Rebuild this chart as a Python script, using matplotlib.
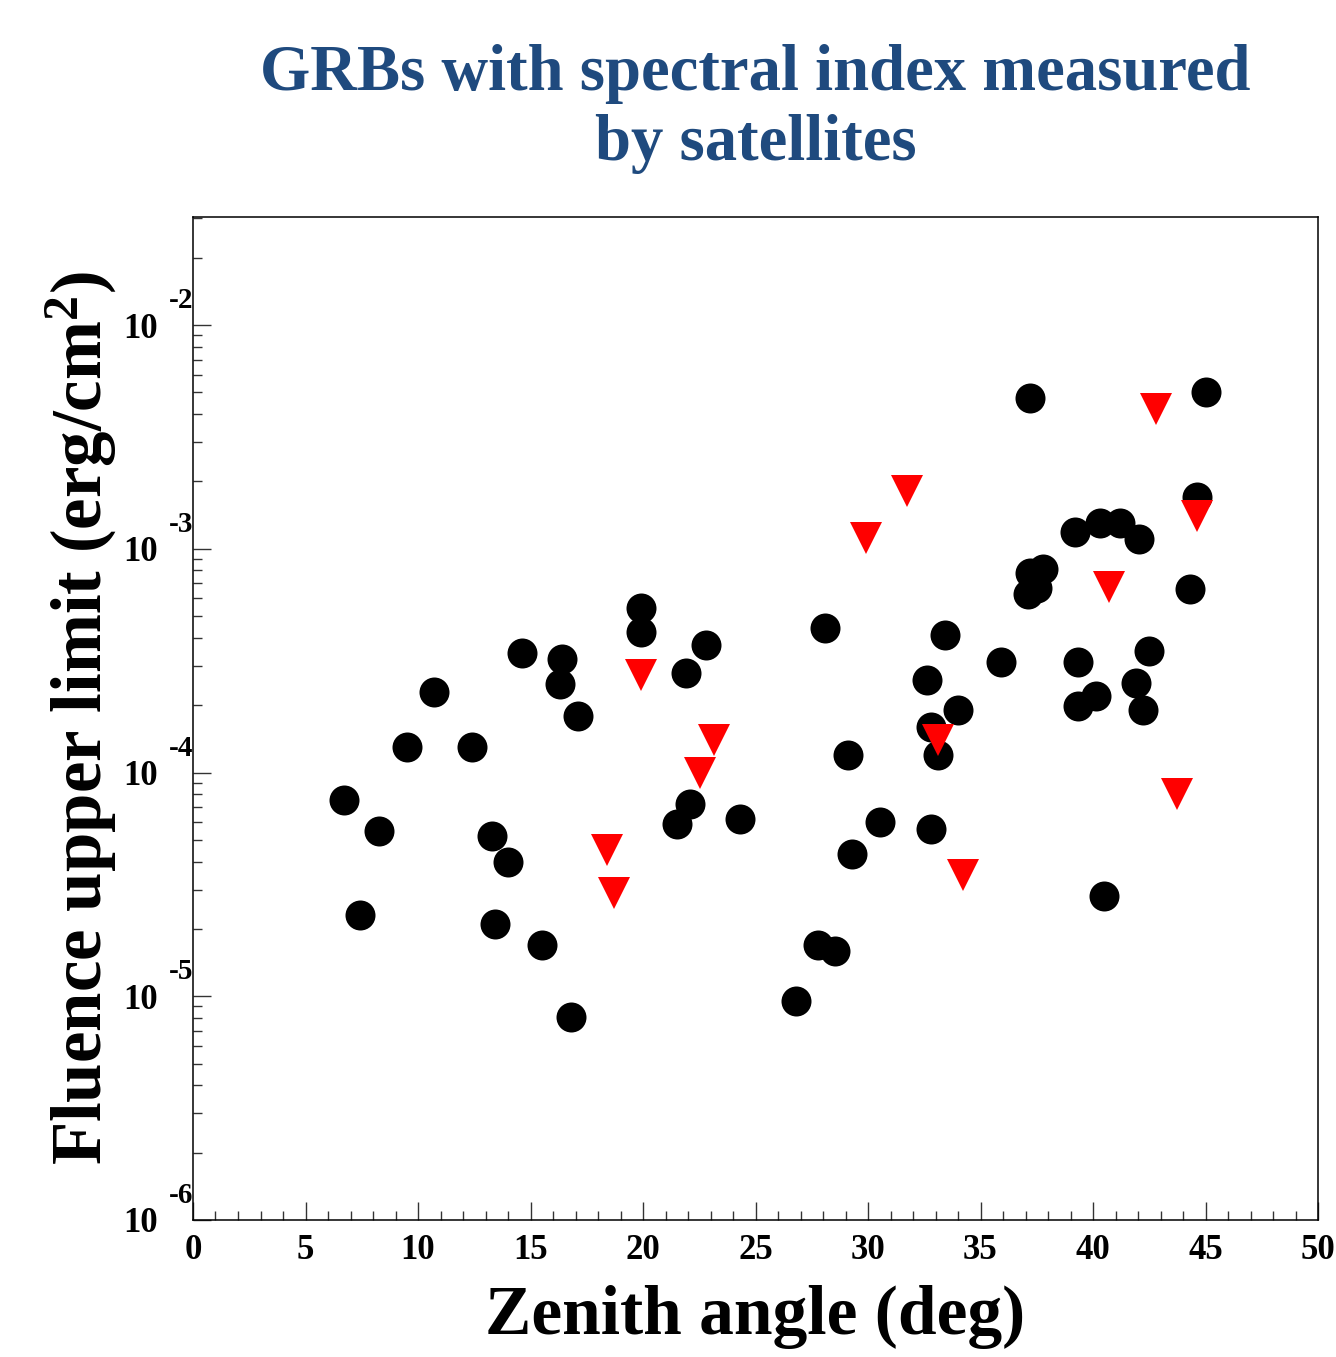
import matplotlib
matplotlib.use("Agg")
import matplotlib.pyplot as plt
from matplotlib.ticker import FixedLocator, LogLocator, NullFormatter, MultipleLocator
import matplotlib.transforms as mtransforms
import numpy as np

# ---- data (zenith angle in deg, fluence upper limit in erg/cm^2) ----
circle_zenith = [6.71, 7.42, 8.27, 9.51, 10.71, 12.40, 13.29, 13.42, 14.00, 14.62,
                 15.51, 16.40, 16.31, 16.80, 17.11, 19.91, 19.91, 21.91, 22.80, 21.51,
                 22.09, 24.31, 26.80, 27.78, 28.53, 28.09, 29.11, 29.29, 30.53, 32.62,
                 32.80, 33.11, 32.80, 33.42, 34.00, 35.91, 37.20, 37.11, 37.20, 37.51,
                 37.78, 39.20, 39.33, 39.33, 40.13, 40.31, 41.20, 42.04, 40.49, 41.91,
                 42.49, 42.22, 44.31, 44.62, 45.02]
circle_fluence = [7.53e-5, 2.31e-5, 5.48e-5, 1.30e-4, 2.29e-4, 1.30e-4, 5.20e-5, 2.10e-5, 3.98e-5, 3.42e-4,
                  1.69e-5, 3.21e-4, 2.49e-4, 8.07e-6, 1.79e-4, 5.43e-4, 4.25e-4, 2.79e-4, 3.72e-4, 5.89e-5,
                  7.23e-5, 6.19e-5, 9.52e-6, 1.69e-5, 1.59e-5, 4.43e-4, 1.20e-4, 4.32e-5, 6.01e-5, 2.59e-4,
                  1.60e-4, 1.20e-4, 5.59e-5, 4.12e-4, 1.90e-4, 3.12e-4, 4.72e-3, 6.28e-4, 7.80e-4, 6.68e-4,
                  8.11e-4, 1.19e-3, 3.12e-4, 1.98e-4, 2.20e-4, 1.30e-3, 1.30e-3, 1.11e-3, 2.81e-5, 2.51e-4,
                  3.49e-4, 1.90e-4, 6.61e-4, 1.70e-3, 5.02e-3]

triangle_zenith = [18.40, 18.71, 19.91, 22.53, 23.16, 29.91, 31.73, 33.11, 34.22, 40.71,
                   42.80, 43.73, 44.62]
triangle_fluence = [4.51e-5, 2.89e-5, 2.72e-4, 1.00e-4, 1.40e-4, 1.12e-3, 1.81e-3, 1.40e-4, 3.50e-5, 6.75e-4,
                    4.23e-3, 7.98e-5, 1.40e-3]

x_major_ticks = [0, 5, 10, 15, 20, 25, 30, 35, 40, 45, 50]
y_decades = [-6, -5, -4, -3, -2]

title_text = "GRBs with spectral index measured\nby satellites"
xlabel_text = "Zenith angle (deg)"
ylabel_text = "Fluence upper limit (erg/cm$^{2}$)"

# ---- style ----
plt.rcParams['font.family'] = ['Liberation Serif', 'DejaVu Serif']
plt.rcParams['font.weight'] = 'bold'
plt.rcParams['mathtext.fontset'] = 'custom'
plt.rcParams['mathtext.rm'] = 'Liberation Serif:bold'
plt.rcParams['mathtext.bf'] = 'Liberation Serif:bold'
plt.rcParams['mathtext.it'] = 'Liberation Serif:bold:italic'
plt.rcParams['mathtext.default'] = 'regular'

W, H = 1336, 1357
fig = plt.figure(figsize=(W / 100, H / 100), dpi=100)
ax = fig.add_axes([193 / W, 1 - 1220 / H, (1318 - 193) / W, (1220 - 217) / H])

ax.set_xlim(0, 50)
ax.set_yscale('log')
ax.set_ylim(1e-6, 3.04e-2)

ax.plot(circle_zenith, circle_fluence, linestyle='none', marker='o',
        markersize=21.6, color='black', markeredgewidth=0, zorder=3)
ax.plot(triangle_zenith, triangle_fluence, linestyle='none', marker='v',
        markersize=22.5, color='#ff0000', markeredgewidth=0, zorder=4)

# x ticks
ax.xaxis.set_major_locator(FixedLocator(x_major_ticks))
ax.xaxis.set_minor_locator(MultipleLocator(1))
ax.set_xticklabels([str(v) for v in x_major_ticks])
ax.tick_params(axis='x', which='major', direction='in', length=13, width=1.0,
               color='#333333', labelsize=25, pad=10, top=False)
ax.tick_params(axis='x', which='minor', direction='in', length=6.5, width=1.0,
               color='#333333', top=False)

# y ticks
y_major = [10.0 ** d for d in y_decades]
ax.yaxis.set_major_locator(FixedLocator(y_major))
ax.yaxis.set_minor_locator(LogLocator(base=10, subs=np.arange(2, 10)))
ax.yaxis.set_minor_formatter(NullFormatter())
ax.set_yticklabels(["10"] * len(y_major))
ax.tick_params(axis='y', which='major', direction='in', length=13, width=1.0,
               color='#333333', labelsize=25, pad=25.5, right=False)
ax.tick_params(axis='y', which='minor', direction='in', length=6.5, width=1.0,
               color='#333333', right=False)
for lab in ax.get_xticklabels() + ax.get_yticklabels():
    lab.set_fontweight('bold')

# exponents of y tick labels
blend = mtransforms.blended_transform_factory(ax.transAxes, ax.transData)
for d, yv in zip(y_decades, y_major):
    tr = mtransforms.offset_copy(blend, fig=fig, x=0, y=11, units='dots')
    ax.text(0, yv, str(d), transform=tr, ha='right', va='bottom',
            fontsize=21, fontweight='bold', clip_on=False)

for sp in ax.spines.values():
    sp.set_linewidth(1.1)
    sp.set_color('black')

ax.set_xlabel(xlabel_text, fontsize=50, fontweight='bold', labelpad=13)
ax.set_ylabel(ylabel_text, fontsize=51, fontweight='bold', labelpad=3)

fig.text((193 + 1318) / 2 / W, 1 - 44 / H, title_text, ha='center', va='top',
         fontsize=46.5, fontweight='bold', color='#1f4a7e', linespacing=1.22)

fig.savefig("out.png", dpi=100)
